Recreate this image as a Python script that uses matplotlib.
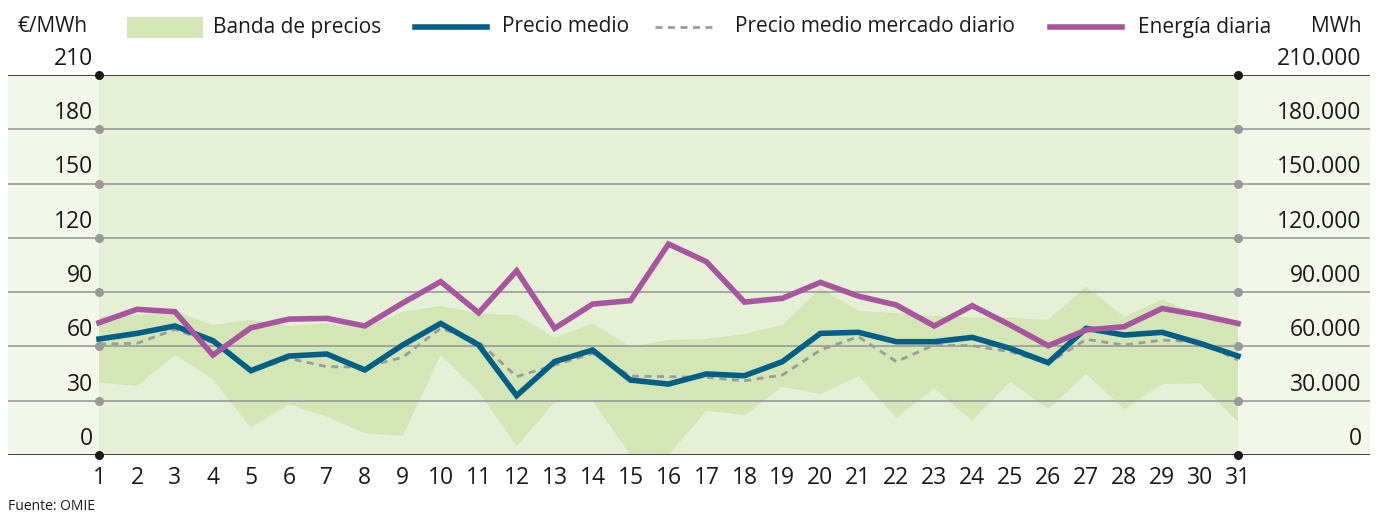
import matplotlib
matplotlib.use("Agg")
import matplotlib.pyplot as plt
from matplotlib.patches import Rectangle
from matplotlib.lines import Line2D

plt.rcParams['font.family'] = ['Open Sans', 'DejaVu Sans']

days = list(range(1, 32))
band_high = [76.4, 77.3, 79.5, 71.8, 74.6, 71.4, 72.7, 70.0, 79.2, 82.3,
             78.3, 77.3, 64.8, 72.7, 59.8, 63.5, 64.1, 66.9, 71.8, 92.1,
             79.7, 78.3, 76.8, 76.0, 75.9, 74.6, 93.0, 76.4, 86.0, 77.0, 71.5]
band_low = [40.0, 38.1, 55.2, 41.8, 15.1, 28.0, 21.2, 12.0, 10.5, 55.2,
            35.0, 5.0, 29.1, 29.8, 0.0, 0.0, 24.5, 22.1, 37.7, 33.7,
            43.6, 20.6, 36.8, 19.0, 40.5, 25.4, 44.8, 25.4, 39.2, 39.6, 18.4]
precio_medio = [64.1, 67.2, 71.3, 63.2, 46.6, 54.7, 55.8, 47.0, 60.8, 72.7,
                60.8, 32.8, 51.6, 58.0, 41.4, 39.2, 44.8, 43.8, 51.6, 67.2,
                67.8, 62.6, 62.6, 65.0, 58.9, 51.0, 70.0, 66.3, 67.8, 61.7, 54.7]
precio_diario = [61.3, 61.7, 69.4, 62.0, 46.0, 53.4, 48.8, 48.6, 54.0, 70.0,
                 62.6, 43.3, 49.7, 56.2, 43.6, 43.3, 42.9, 41.0, 44.2, 58.0,
                 65.4, 51.6, 60.8, 60.4, 57.1, 50.6, 63.9, 60.8, 63.5, 62.5, 52.5]
energia = [73100, 80500, 79200, 55200, 70300, 75100, 75500, 71300, 84000, 95800,
           78600, 101800, 70000, 83400, 85300, 116600, 106800, 84500, 86600, 95400,
           87800, 82900, 71300, 82500, 71800, 60400, 69100, 70900, 81000, 77300, 72700]
left_ticks = [0, 30, 60, 90, 120, 150, 180, 210]
right_labels = ['0', '30.000', '60.000', '90.000', '120.000', '150.000', '180.000', '210.000']

C_BAND = '#d4e6b5'
C_INNER = '#e5f0d6'
C_OUTER = '#f3f7ea'
C_BLUE = '#005f86'
C_PURPLE = '#a8559f'
C_DASH = '#9b9b9b'
C_GRID = '#9a9a9a'
C_TXT = '#1a1a1a'

W, H = 1381, 515
fig = plt.figure(figsize=(W / 100, H / 100), dpi=100)
x0, x1, y0, y1 = 8, 1370, 75, 455
ax = fig.add_axes([x0 / W, 1 - y1 / H, (x1 - x0) / W, (y1 - y0) / H])
step = (1238 - 99) / 30
ax.set_xlim(1 - (99 - x0) / step, 31 + (x1 - 1238) / step)
ax.set_ylim(0, 210)
ax.axis('off')

xl = ax.get_xlim()
ax.add_patch(Rectangle((xl[0], 0), xl[1] - xl[0], 210,
                       facecolor=C_OUTER, edgecolor='none', zorder=0))
ax.add_patch(Rectangle((1, 0), 30, 210, facecolor=C_INNER, edgecolor='none', zorder=0.5))
ax.fill_between(days, band_low, band_high, facecolor=C_BAND, edgecolor='none', zorder=1)

for v in left_ticks:
    if v in (0, 210):
        ax.axhline(v, color='#333333', lw=1.3, zorder=2)
    else:
        ax.axhline(v, color=C_GRID, lw=1.2, zorder=2)

ax.plot(days, precio_diario, color=C_DASH, lw=2, ls=(0, (2.5, 2)), zorder=3)
ax.plot(days, precio_medio, color=C_BLUE, lw=4, zorder=4, solid_joinstyle='miter')
ax2 = ax.twinx()
ax2.set_ylim(0, 210000)
ax2.axis('off')
ax2.plot(days, energia, color=C_PURPLE, lw=4, zorder=5, solid_joinstyle='miter')

for v in left_ticks:
    col = '#1a1a1a' if v in (0, 210) else '#999999'
    ax.plot([1, 31], [v, v], 'o', color=col, ms=5.5, zorder=6, clip_on=False)

fs = 16.5
for v, lab in zip(left_ticks, right_labels):
    ax.annotate(str(v), xy=(1, v), xytext=(-4, 3), textcoords='offset points',
                ha='right', va='bottom', fontsize=fs, color=C_TXT)
    ax.annotate(lab, xy=(xl[1], v), xytext=(-6, 3), textcoords='offset points',
                ha='right', va='bottom', fontsize=fs, color=C_TXT)

for d in days:
    ax.annotate(str(d), xy=(d, 0), xytext=(0, -8), textcoords='offset points',
                ha='center', va='top', fontsize=fs, color=C_TXT)

# header / legend
lfs = 15
ty = 1 - 27 / H
fig.text(18 / W, ty, '€/MWh', fontsize=lfs, ha='left', va='center', color=C_TXT)
fig.text(1362 / W, ty, 'MWh', fontsize=lfs, ha='right', va='center', color=C_TXT)
fig.patches.append(Rectangle((127 / W, 1 - 38 / H), 76 / W, 21 / H, facecolor=C_BAND,
                             edgecolor='none', transform=fig.transFigure, figure=fig))
fig.text(213 / W, ty, 'Banda de precios', fontsize=lfs, ha='left', va='center', color=C_TXT)
fig.lines.append(Line2D([415 / W, 487 / W], [ty, ty], color=C_BLUE, lw=4,
                        transform=fig.transFigure, figure=fig))
fig.text(502 / W, ty, 'Precio medio', fontsize=lfs, ha='left', va='center', color=C_TXT)
fig.lines.append(Line2D([655 / W, 712 / W], [ty, ty], color=C_DASH, lw=2, ls=(0, (2.5, 2)),
                        transform=fig.transFigure, figure=fig))
fig.text(735 / W, ty, 'Precio medio mercado diario', fontsize=lfs, ha='left', va='center', color=C_TXT)
fig.lines.append(Line2D([1050 / W, 1122 / W], [ty, ty], color=C_PURPLE, lw=4,
                        transform=fig.transFigure, figure=fig))
fig.text(1138 / W, ty, 'Energía diaria', fontsize=lfs, ha='left', va='center', color=C_TXT)

fig.text(8 / W, 1 - 507 / H, 'Fuente: OMIE', fontsize=10, ha='left', va='center', color=C_TXT)

fig.savefig('out.png', dpi=100)
